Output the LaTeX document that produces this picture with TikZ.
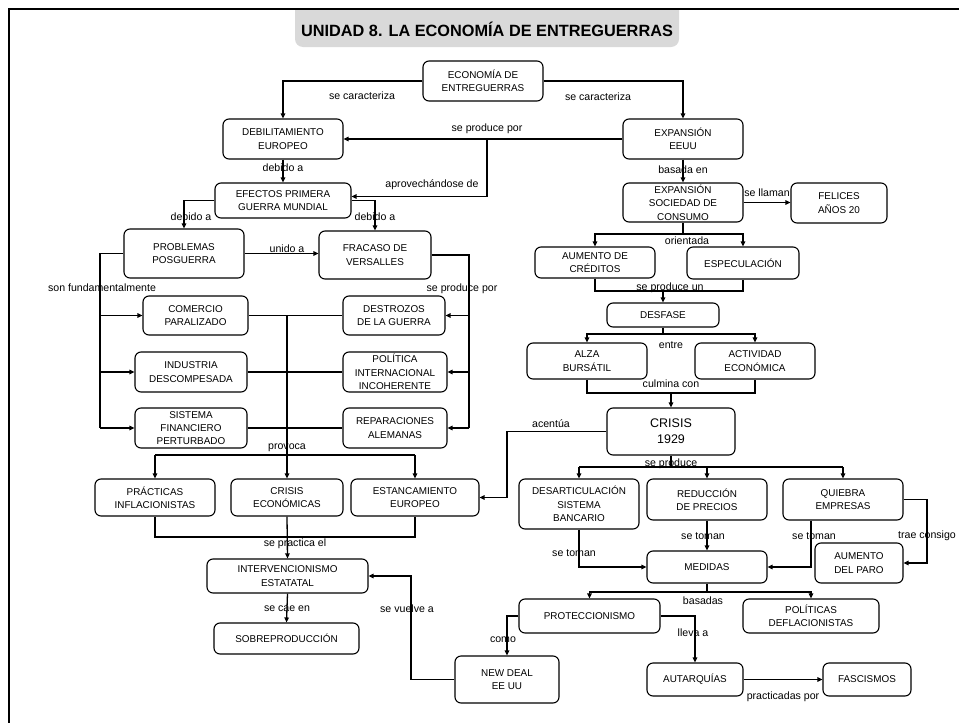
\documentclass[tikz,border=0pt]{standalone}
\usepackage{fontspec}
\setmainfont{Liberation Sans}
\usetikzlibrary{arrows.meta}
\begin{document}
\begin{tikzpicture}[x=1pt,y=-1pt,
  box/.style={draw=black, line width=1.1pt, rounded corners=6pt, align=center, inner sep=0pt,
    font=\fontsize{9.9}{13.3}\selectfont},
  lbl/.style={inner sep=0pt, font=\fontsize{10.6}{12}\selectfont},
  conn/.style={line width=1.3pt, draw=black},
  arr/.style={conn, -{Triangle[length=5pt,width=4.5pt]}}
]
\useasboundingbox (0,0) rectangle (959,723);
% title
\begin{scope}
\clip (0,9) rectangle (959,60);
\fill[black!15, rounded corners=8pt] (295,-10) rectangle (679,47);
\end{scope}
\node[font=\fontsize{16.3}{18}\selectfont\bfseries, inner sep=0pt] (title) at (487,29) {UNIDAD 8. LA ECONOMÍA DE ENTREGUERRAS};
% frame
\draw[line width=2.7pt] (959,9) -- (9,9) -- (9,723);

% nodes
\node[box, minimum width=120, minimum height=40] (eco) at (483,81) {ECONOMÍA DE\\ENTREGUERRAS};
\node[box, minimum width=120, minimum height=40] (deb) at (283,139) {DEBILITAMIENTO\\EUROPEO};
\node[box, minimum width=120, minimum height=40] (eeuu) at (683,139) {EXPANSIÓN\\EEUU};
\node[box, minimum width=136, minimum height=35] (efe) at (283,200.5) {EFECTOS PRIMERA\\GUERRA MUNDIAL};
\node[box, minimum width=120, minimum height=49] (pro) at (184,253.5) {PROBLEMAS\\POSGUERRA};
\node[box, minimum width=112, minimum height=48] (fra) at (375,255) {FRACASO DE\\VERSALLES};
\node[box, minimum width=105, minimum height=39] (com) at (195.5,315.5) {COMERCIO\\PARALIZADO};
\node[box, minimum width=112, minimum height=40] (ind) at (191,372) {INDUSTRIA\\DESCOMPESADA};
\node[box, minimum width=112, minimum height=40] (sis) at (191,428) {SISTEMA\\FINANCIERO\\PERTURBADO};
\node[box, minimum width=102, minimum height=39] (des) at (394,315.5) {DESTROZOS\\DE LA GUERRA};
\node[box, minimum width=104, minimum height=40] (pol) at (395,372) {POLÍTICA\\INTERNACIONAL\\INCOHERENTE};
\node[box, minimum width=104, minimum height=40] (rep) at (395,428) {REPARACIONES\\ALEMANAS};
\node[box, minimum width=120, minimum height=37] (pra) at (155,497.5) {PRÁCTICAS\\INFLACIONISTAS};
\node[box, minimum width=112, minimum height=37] (cri) at (287,497.5) {CRISIS\\ECONÓMICAS};
\node[box, minimum width=128, minimum height=37] (est) at (415,497.5) {ESTANCAMIENTO\\EUROPEO};
\node[box, minimum width=161, minimum height=34] (int) at (287.5,576) {INTERVENCIONISMO\\ESTATATAL};
\node[box, minimum width=145, minimum height=31] (sob) at (286.5,638.5) {SOBREPRODUCCIÓN};
\node[box, minimum width=104, minimum height=47] (new) at (507,679.5) {NEW DEAL\\EE UU};
\node[box, minimum width=120, minimum height=39] (soc) at (683,202.5) {EXPANSIÓN\\SOCIEDAD DE\\CONSUMO};
\node[box, minimum width=96, minimum height=40] (fel) at (839,203) {FELICES\\AÑOS 20};
\node[box, minimum width=120, minimum height=31] (aum) at (595,262.5) {AUMENTO DE\\CRÉDITOS};
\node[box, minimum width=112, minimum height=32] (esp) at (743,263) {ESPECULACIÓN};
\node[box, minimum width=112, minimum height=24] (dsf) at (663,315) {DESFASE};
\node[box, minimum width=120, minimum height=36] (alz) at (587,361) {ALZA\\BURSÁTIL};
\node[box, minimum width=120, minimum height=36] (act) at (755,361) {ACTIVIDAD\\ECONÓMICA};
\node[box, minimum width=128, minimum height=47, font=\fontsize{12.5}{16}\selectfont] (c29) at (671,431.5) {CRISIS\\1929};
\node[box, minimum width=120, minimum height=50] (dsa) at (579,504) {DESARTICULACIÓN\\SISTEMA\\BANCARIO};
\node[box, minimum width=120, minimum height=41] (red) at (707,499.5) {REDUCCIÓN\\DE PRECIOS};
\node[box, minimum width=120, minimum height=41] (qui) at (843,499.5) {QUIEBRA\\EMPRESAS};
\node[box, minimum width=120, minimum height=32] (med) at (707,567) {MEDIDAS};
\node[box, minimum width=88, minimum height=40] (par) at (859,563) {AUMENTO\\DEL PARO};
\node[box, minimum width=141, minimum height=34] (prot) at (589.5,616) {PROTECCIONISMO};
\node[box, minimum width=136, minimum height=34] (pdf) at (811,616) {POLÍTICAS\\DEFLACIONISTAS};
\node[box, minimum width=96, minimum height=33] (aut) at (695,679.5) {AUTARQUÍAS};
\node[box, minimum width=88, minimum height=33] (fas) at (867,679.5) {FASCISMOS};

% coordinates
\coordinate (j1) at (487,139);
\coordinate (lb) at (100,428);
\coordinate (rb) at (469,428);
\coordinate (mv) at (287,315);
\coordinate (pvL) at (155,455);
\coordinate (pvR) at (415,455);
\coordinate (sp) at (287,537);
\coordinate (sv) at (411,600);
\coordinate (or) at (683,234);
\coordinate (pu) at (663,291);
\coordinate (en) at (663,334);
\coordinate (cu) at (671,393);
\coordinate (ac) at (507,450);
\coordinate (sp2) at (671,467);
\coordinate (tc) at (927,540);
\coordinate (ba) at (707,592);

% left connectors
\draw[arr] (eco.west) -| (deb.north);
\draw[arr] (eco.east) -| (eeuu.north);
\draw[arr] (eeuu.west) -- (deb.east);
\draw[arr] (j1) |- ([yshift=4pt]efe.east);
\draw[arr] (deb.south) -- (efe.north);
\draw[arr] (efe.west) -| (pro.north);
\draw[arr] (efe.east) -| (fra.north);
\draw[arr] (pro.east) -- (pro.east -| fra.west);
\draw[conn] (pro.west) -| (lb);
\draw[arr] (lb |- com.west) -- (com.west);
\draw[arr] (lb |- ind.west) -- (ind.west);
\draw[arr] (lb) -- (sis.west);
\draw[conn] (fra.east) -| (rb);
\draw[arr] (rb |- des.east) -- (des.east);
\draw[arr] (rb |- pol.east) -- (pol.east);
\draw[arr] (rb) -- (rep.east);
\draw[conn] (com.east) -- (des.west);
\draw[conn] (ind.east) -- (pol.west);
\draw[conn] (sis.east) -- (rep.west);
\draw[arr] (mv) -- (cri.north);
\draw[conn] (pvL) -- (pvR);
\draw[arr] (pvL) -- (pra.north);
\draw[arr] (pvR) -- (est.north);
\draw[conn] (pra.south) -- (pra.south |- sp) -- (est.south |- sp) -- (est.south);
\draw[arr] (cri.south) -- (int.north);
\draw[arr] (int.south) -- (sob.north);
\draw[arr] (new.west) -| (sv |- int.east) -- (int.east);

% right connectors
\draw[arr] (eeuu.south) -- (soc.north);
\draw[arr] (soc.east) -- (soc.east -| fel.west);
\draw[conn] (soc.south) -- (or);
\draw[arr] (or) -| (aum.north);
\draw[arr] (or) -| (esp.north);
\draw[conn] (aum.south) -- (aum.south |- pu) -- (esp.south |- pu) -- (esp.south);
\draw[arr] (pu) -- (dsf.north);
\draw[conn] (dsf.south) -- (en);
\draw[arr] (en) -| (alz.north);
\draw[arr] (en) -| (act.north);
\draw[conn] (alz.south) -- (alz.south |- cu) -- (act.south |- cu) -- (act.south);
\draw[arr] (cu) -- (c29.north);
\draw[arr] (c29.west) -| (ac |- est.east) -- (est.east);
\draw[conn] (c29.south) -- (sp2);
\draw[conn] (dsa.north |- sp2) -- (qui.north |- sp2);
\draw[arr] (dsa.north |- sp2) -- (dsa.north);
\draw[arr] (red.north |- sp2) -- (red.north);
\draw[arr] (qui.north |- sp2) -- (qui.north);
\draw[arr] (dsa.south) |- (med.west);
\draw[arr] (red.south) -- (med.north);
\draw[arr] ([xshift=-32pt]qui.south) |- (med.east);
\draw[arr] (qui.east) -| (tc |- par.east) -- (par.east);
\draw[conn] (med.south) -- (ba);
\draw[arr] (ba) -| (prot.north);
\draw[arr] (ba) -| (pdf.north);
\draw[arr] (prot.west) -| (new.north);
\draw[arr] (prot.east) -| (aut.north);
\draw[arr] (aut.east) -- (fas.west);

% labels
\node[lbl] (l1) at (362,96) {se caracteriza};
\node[lbl] (l2) at (598,97) {se caracteriza};
\node[lbl] (l3) at (487,129) {se produce por};
\node[lbl] (l4) at (432,185) {aprovechándose de};
\node[lbl] (l5) at (283,168) {debido a};
\node[lbl] (l6) at (191,217) {debido a};
\node[lbl] (l7) at (375,217) {debido a};
\node[lbl] (l8) at (287,249) {unido a};
\node[lbl] (l9) at (102,288) {son fundamentalmente};
\node[lbl] (l10) at (462,289) {se produce por};
\node[lbl] (l11) at (287,448) {provoca};
\node[lbl] (l12) at (295,544) {se practica el};
\node[lbl] (l13) at (287,609) {se cae en};
\node[lbl] (l14) at (407,609) {se vuelve a};
\node[lbl] (l15) at (683,170) {basada en};
\node[lbl] (l16) at (767,193) {se llaman};
\node[lbl] (l17) at (687,241) {orientada};
\node[lbl] (l18) at (670,288) {se produce un};
\node[lbl] (l19) at (671,345) {entre};
\node[lbl] (l20) at (671,384) {culmina con};
\node[lbl] (l21) at (551,424) {acentúa};
\node[lbl] (l22) at (671,464) {se produce};
\node[lbl] (l23) at (574,553) {se toman};
\node[lbl] (l24) at (703,536) {se toman};
\node[lbl] (l25) at (814,536) {se toman};
\node[lbl] (l26) at (927,536) {trae consigo};
\node[lbl] (l27) at (703,601) {basadas};
\node[lbl] (l28) at (503,640) {como};
\node[lbl] (l29) at (693,633) {lleva a};
\node[lbl] (l30) at (783,697) {practicadas por};
\end{tikzpicture}
\end{document}
